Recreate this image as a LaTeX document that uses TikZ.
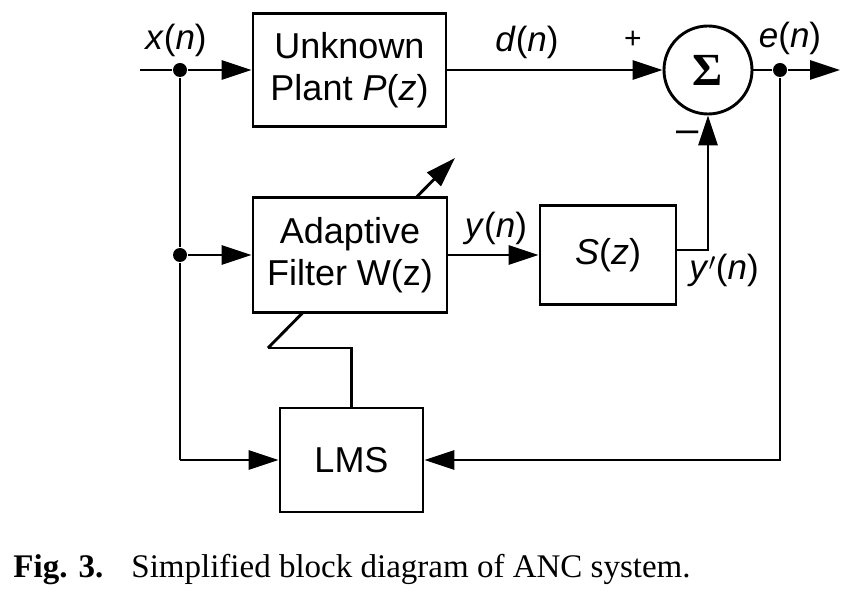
\documentclass[tikz,border=0pt]{standalone}
\usepackage{fontspec}
\setmainfont{Liberation Serif}
\setsansfont{Liberation Sans}
\usetikzlibrary{arrows.meta}

\begin{document}
\begin{tikzpicture}[x=1pt,y=-1pt, line width=2.9pt, >={Triangle[length=30pt,width=19pt]},
  block/.style={draw, fill=white, align=center, inner sep=0pt, font=\sffamily\fontsize{36}{42}\selectfont},
  lbl/.style={font=\sffamily\fontsize{35}{40}\selectfont, inner sep=0pt},
  dot/.style={circle, fill, inner sep=0pt, minimum size=14pt}]
\useasboundingbox (0,0) rectangle (865,593);
\node[block, minimum width=193pt, minimum height=113pt] (plant) at (349.5,70) {Unknown\\Plant \textit{P}(\textit{z})};
\node[block, minimum width=143pt, minimum height=104pt] (lms) at (351.5,460) {LMS};
\coordinate (k2) at (268,348);
\coordinate (tip) at (455,158);
\draw (lms.north) |- (k2);
\draw[->] (k2) -- (tip);
\node[block, minimum width=194pt, minimum height=115pt] (adf) at (350,255) {Adaptive\\Filter W(z)};
\node[block, minimum width=136pt, minimum height=99pt] (sz) at (608,255) {\textit{S}(\textit{z})};
\node[circle, draw, minimum size=88pt, inner sep=0pt] (sum) at (708,70) {\fontsize{46}{50}\selectfont\textbf{Σ}};
\node[dot] (jx) at (180,70) {};
\node[dot] (jw) at (180,255) {};
\node[dot] (je) at (780,70) {};
\coordinate (in) at (140,70);
\coordinate (out) at (840,70);
\coordinate (c1) at (180,460);
\coordinate (sy) at (708,250);
\draw (in) -- (jx) -- (jw) -- (c1);
\draw (sum) -- (je);
\path[->] (jx) edge (plant)
          (jw) edge (adf)
          (c1) edge (lms)
          (plant) edge (sum)
          (je) edge (out)
          (adf) edge (sz);
\draw[->] (je) |- (lms);
\draw[->] (sz.east |- sy) -- (sy) -- (sum);
% labels
\node[lbl] (lx) at (176,40) {\textit{x}(\textit{n})};
\node[lbl] (ld) at (527,42) {\textit{d}(\textit{n})};
\node[lbl] (le) at (790,38) {\textit{e}(\textit{n})};
\node[lbl] (ly) at (496,228) {\textit{y}(\textit{n})};
\node[lbl] (lyp) at (724,270) {\textit{y}$'$(\textit{n})};
\node[lbl, font=\sffamily\fontsize{30}{34}\selectfont] (lplus) at (633,40) {+};
\node[lbl, font=\sffamily\fontsize{40}{44}\selectfont] (lminus) at (688,137) {\textendash};
% caption
\node[anchor=base west, inner sep=0pt, font=\fontsize{33}{38}\selectfont] (fig) at (12,577) {\textbf{Fig. 3.}};
\node[anchor=base west, inner sep=0pt, font=\fontsize{33}{38}\selectfont] (cap) at (130,577) {Simplified block diagram of ANC system.};
\end{tikzpicture}
\end{document}
